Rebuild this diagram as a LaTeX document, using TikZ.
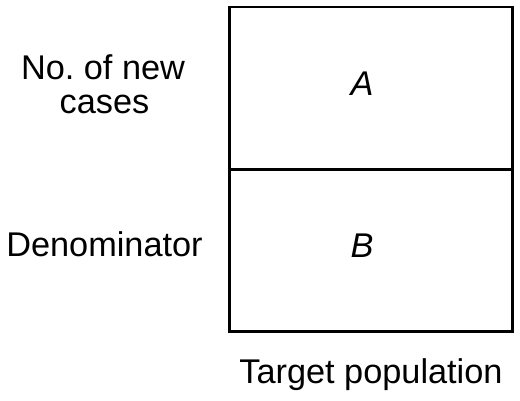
\documentclass[tikz,border=0pt]{standalone}
\usepackage{fontspec}
\setmainfont{Liberation Sans}
\begin{document}
\begin{tikzpicture}[x=1pt,y=-1pt,
  lbl/.style={anchor=base,inner sep=0pt,font=\fontsize{34.3}{34.7}\selectfont},
  cell/.style={line width=2.7pt,draw=black}]
\useasboundingbox (0,0) rectangle (520,401);
\draw[cell] (229.5,7) rectangle (512.5,169.5);
\draw[cell] (229.5,169.5) rectangle (512.5,331.5);
\node[lbl] (no) at (103,79.3) {No.\ of new};
\node[lbl] (cases) at (104.5,114) {cases};
\node[lbl] (den) at (104.5,256.7) {Denominator};
\node[lbl] (a) at (362,96) {\itshape A};
\node[lbl] (b) at (362,258) {\itshape B};
\node[lbl] (tp) at (371,383.3) {Target population};
\end{tikzpicture}
\end{document}
